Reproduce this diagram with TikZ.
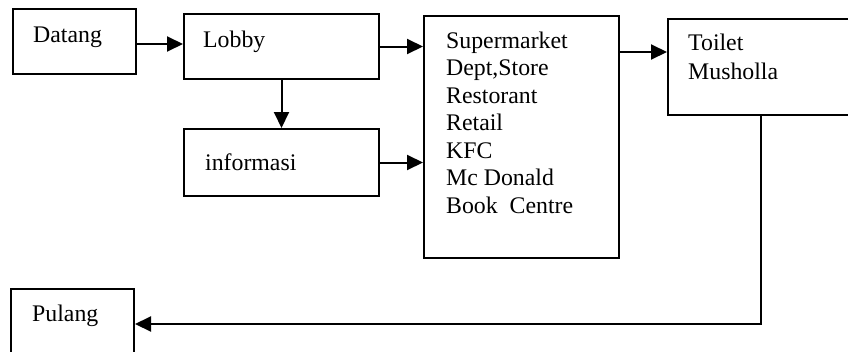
\documentclass[tikz,border=0pt]{standalone}
\usepackage{fontspec}
\setmainfont{Liberation Serif}
\usetikzlibrary{arrows.meta}
\begin{document}
\begin{tikzpicture}[x=1pt,y=-1pt,
  box/.style={draw, line width=2pt, inner sep=0pt, anchor=north west},
  lbl/.style={anchor=base west, inner sep=0pt, align=left,
    font=\fontsize{23.8}{27.5}\selectfont},
  flow/.style={line width=2pt, -{Triangle[length=16pt,width=15pt]}}]
\useasboundingbox (0,0) rectangle (848,351);
\clip (0,0) rectangle (848,351);

% boxes
\node[box, minimum width=123pt, minimum height=65pt] (datang) at (12,8) {};
\node[box, minimum width=195pt, minimum height=65pt] (lobby) at (183,13) {};
\node[box, minimum width=195pt, minimum height=67pt] (info) at (183,128) {};
\node[box, minimum width=195pt, minimum height=242pt] (super) at (423,15) {};
\node[box, minimum width=210pt, minimum height=96pt] (toilet) at (667,18) {};
\node[box, minimum width=123pt, minimum height=70pt] (pulang) at (10,288) {};

% labels (base west = baseline of the last line)
\node[lbl] (tdatang) at (33,42) {Datang};
\node[lbl] (tlobby) at (203,47) {Lobby};
\node[lbl] (tinfo) at (205,170) {informasi};
\node[lbl] (tsuper) at (446,213) {Supermarket\\Dept,Store\\Restorant\\Retail\\KFC\\Mc Donald\\Book\ \ Centre};
\node[lbl, font=\fontsize{23.8}{29}\selectfont] (ttoilet) at (688,79) {Toilet\\Musholla};
\node[lbl] (tpulang) at (32,321) {Pulang};

% connectors
\draw[flow] ([yshift=-2.5pt]datang.east) -- ([yshift=-2.5pt]datang.east -| lobby.west);
\draw[flow] (lobby.east) -- (lobby.east -| super.west);
\draw[flow] (lobby.south) -- (info.north);
\draw[flow] (info.east) -- (info.east -| super.west);
\coordinate (sout) at ([yshift=-37pt]super.north east);
\draw[flow] (sout) -- (sout -| toilet.west);
\coordinate (tout) at ([xshift=94pt]toilet.south west);
\draw[flow] (tout) |- (pulang.east);
\end{tikzpicture}
\end{document}
